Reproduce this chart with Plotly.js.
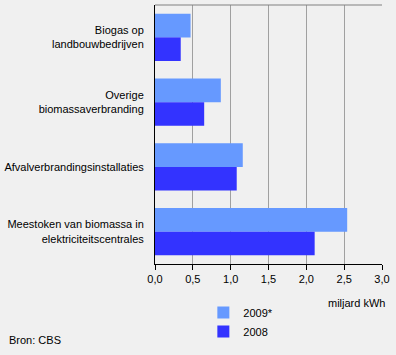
<!DOCTYPE html>
<html>
<head>
<meta charset="utf-8">
<script src="https://cdn.plot.ly/plotly-3.0.1.min.js"></script>
<style>html,body{margin:0;padding:0;background:#F0F0F0;}#chart{width:396px;height:355px;}</style>
</head>
<body>
<div id="chart"></div>
<script>
const categories = [
  "Biogas op<br>landbouwbedrijven",
  "Overige<br>biomassaverbranding",
  "Afvalverbrandingsinstallaties",
  "Meestoken van biomassa in<br>elektriciteitscentrales"
];
const values2009 = [0.47, 0.87, 1.16, 2.54];
const values2008 = [0.34, 0.65, 1.08, 2.11];
const seriesNames = ["2009*", "2008"];
const xTicks = [0, 0.5, 1, 1.5, 2, 2.5, 3];

const font = {family: "Liberation Sans, Arial, sans-serif", size: 11, color: "#000"};

const data = [
  {type: "bar", orientation: "h", name: seriesNames[0], y: categories, x: values2009,
   marker: {color: "#6699FF"}, hoverinfo: "skip"},
  {type: "bar", orientation: "h", name: seriesNames[1], y: categories, x: values2008,
   marker: {color: "#3333FF"}, hoverinfo: "skip"}
];

const layout = {
  width: 396, height: 355,
  margin: {l: 155, r: 14, t: 5, b: 91},
  paper_bgcolor: "#F0F0F0", plot_bgcolor: "#F0F0F0",
  font: font,
  separators: ",.",
  barmode: "group",
  bargap: 0.27,
  bargroupgap: 0,
  showlegend: true,
  legend: {x: 0.213, xanchor: "left", y: -0.131, yanchor: "top", bgcolor: "rgba(0,0,0,0)",
           font: font, traceorder: "normal", itemwidth: 30},
  xaxis: {range: [0, 3], tickvals: xTicks, tickformat: ".1f", showgrid: true, gridcolor: "#A0A0A0",
          gridwidth: 1, zeroline: false, showline: true, linecolor: "#000", linewidth: 1,
          ticks: "outside", ticklen: 5, tickcolor: "#000", fixedrange: true},
  yaxis: {autorange: "reversed", showline: true, linecolor: "#000", linewidth: 1,
          ticks: "", showgrid: false, zeroline: false, ticklabelstandoff: 8, fixedrange: true},
  shapes: [
    {type: "line", xref: "paper", yref: "paper", x0: 0, x1: 1, y0: 1, y1: 1,
     line: {color: "#808080", width: 1}}
  ],
  annotations: [
    {text: "miljard kWh", xref: "paper", yref: "paper", x: 1.022, y: -0.152, xanchor: "right",
     yanchor: "middle", showarrow: false, font: font},
    {text: "Bron: CBS", xref: "paper", yref: "paper", x: -0.652, y: -0.293, xanchor: "left",
     yanchor: "middle", showarrow: false, font: font}
  ]
};

Plotly.newPlot("chart", data, layout, {displayModeBar: false, staticPlot: true});
</script>
</body>
</html>
